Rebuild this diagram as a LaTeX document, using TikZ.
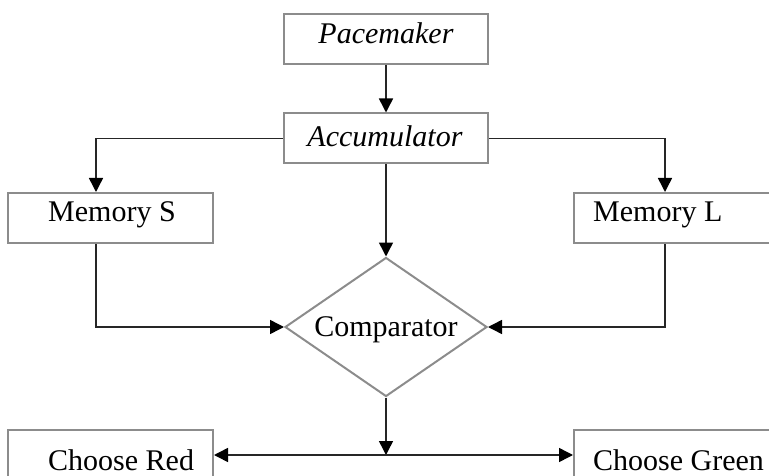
\documentclass[tikz,border=0pt]{standalone}
\usepackage{fontspec}
\setmainfont{Liberation Serif}
\usetikzlibrary{arrows.meta,shapes.geometric,calc}
\begin{document}
\begin{tikzpicture}[x=1pt,y=-1pt,
  box/.style={draw=black!45,line width=2pt,rectangle,inner sep=0pt,minimum width=204pt,minimum height=50pt},
  lbl/.style={inner sep=0pt,font=\fontsize{30}{36}\selectfont},
  conn/.style={draw=black!85,line width=1.5pt,-{Triangle[length=14pt,width=14pt,color=black]}}]
\useasboundingbox (0,0) rectangle (769,476);
\clip (0,0) rectangle (769,476);
% boxes
\node[box] (pace) at (386,39) {};
\node[box] (acc) at (386,138.5) {};
\node[box,minimum width=205pt] (mems) at (110.5,218) {};
\node[box,minimum width=205pt] (meml) at (676.5,218) {};
\node[box,minimum width=205pt] (red) at (110.5,455) {};
\node[box,minimum width=205pt] (green) at (676.5,455) {};
\node[draw=black!45,line width=2pt,diamond,inner sep=0pt,minimum width=202pt,minimum height=139pt] (dia) at (386,327) {};
% labels
\node[lbl,anchor=base] (tpace) at (386,44) {\textit{Pacemaker}};
\node[lbl,anchor=base] (tacc) at (385,147) {\textit{Accumulator}};
\node[lbl,anchor=base west] (tmems) at (48,222) {Memory S};
\node[lbl,anchor=base west] (tmeml) at (593,222) {Memory L};
\node[lbl,anchor=base] (tdia) at (386,336) {Comparator};
\node[lbl,anchor=base west] (tred) at (48,470) {Choose Red};
\node[lbl,anchor=base west] (tgreen) at (593,470) {Choose Green};
% connectors
\draw[conn] (pace.south) -- (acc.north);
\draw[conn] (acc.west) -| ([xshift=-14.5pt]mems.north);
\draw[conn] (acc.east) -| ([xshift=-11.5pt]meml.north);
\draw[conn] (acc.south) -- (dia.north);
\draw[conn] ([xshift=-14.5pt]mems.south) |- (dia.west);
\draw[conn] ([xshift=-11.5pt]meml.south) |- (dia.east);
\coordinate (j) at (dia.south |- red.east);
\draw[conn] (dia.south) -- (j);
\draw[conn] (j) -- (red.east);
\draw[conn] (j) -- (green.west);
\end{tikzpicture}
\end{document}
